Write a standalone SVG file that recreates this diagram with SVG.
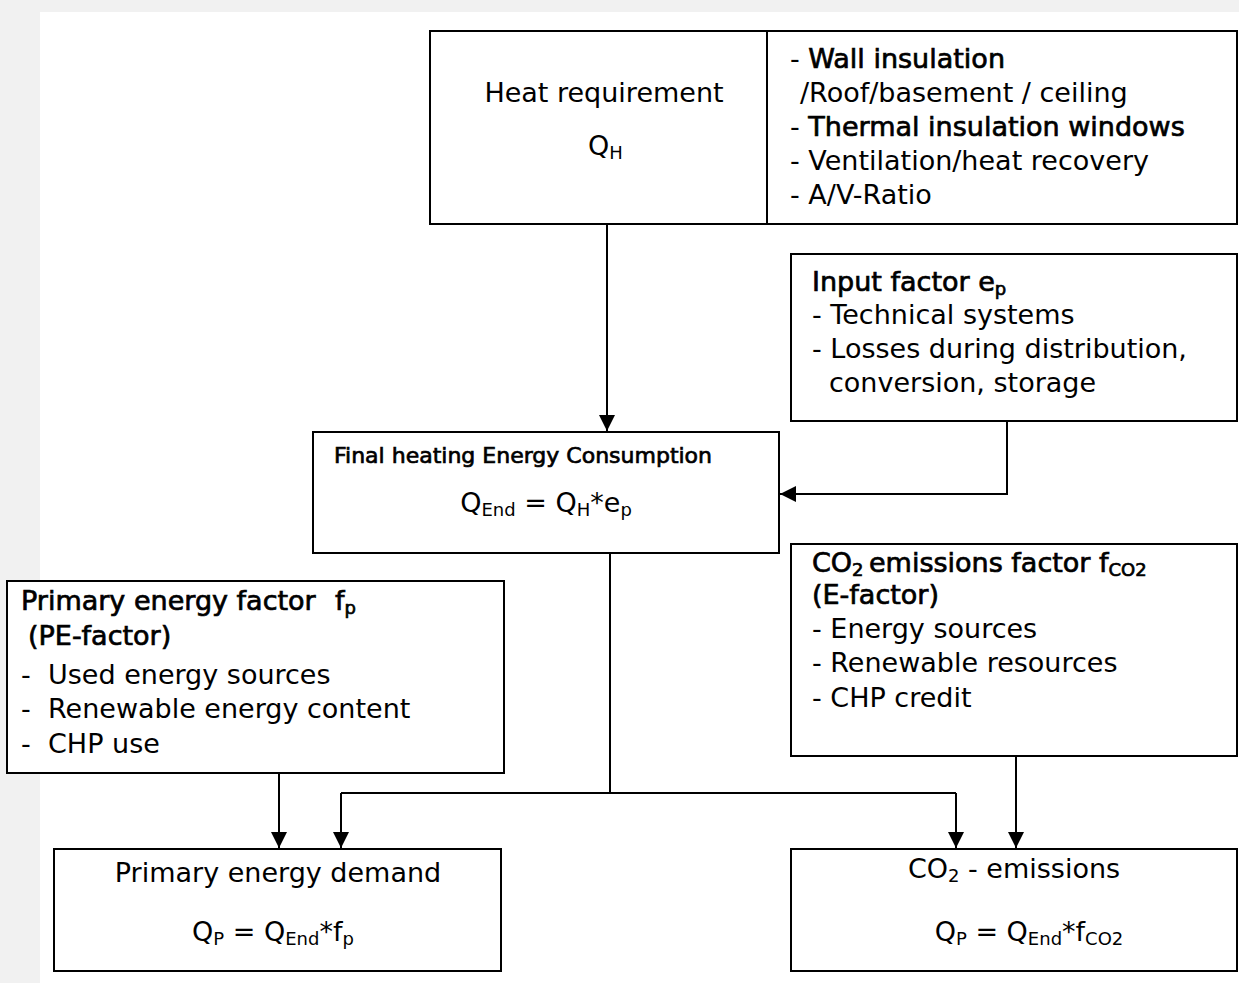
<svg xmlns="http://www.w3.org/2000/svg" width="1239" height="983" viewBox="0 0 1239 983">
<style>
  .box { fill: #ffffff; stroke: #000000; stroke-width: 2; }
  .ln { fill: none; stroke: #000000; stroke-width: 2; }
  text { font-family: "DejaVu Sans", "Liberation Sans", sans-serif; font-size: 27px; fill: #000000; }
  .b { stroke: #000000; stroke-width: 0.7; }
  .sm { font-size: 22px; }
  .sub { font-size: 18px; }
  .mid { text-anchor: middle; }
</style>
<defs>
  <marker id="arr" markerUnits="userSpaceOnUse" markerWidth="16" markerHeight="16" viewBox="0 0 15 15" refX="15" refY="7.5" orient="auto">
    <path d="M0,0 L15,7.5 L0,15 z" fill="#000000"/>
  </marker>
</defs>
<rect x="0" y="0" width="1239" height="983" fill="#f1f1f1"/>
<rect x="40" y="12" width="1199" height="971" fill="#ffffff"/>

<g id="connectors">
  <path class="ln" d="M607,224 L607,431" marker-end="url(#arr)"/>
  <path class="ln" d="M1007,421 L1007,494 L780,494" marker-end="url(#arr)"/>
  <path class="ln" d="M610,553 L610,793"/>
  <path class="ln" d="M341,793 L956,793"/>
  <path class="ln" d="M341,793 L341,848" marker-end="url(#arr)"/>
  <path class="ln" d="M956,793 L956,848" marker-end="url(#arr)"/>
  <path class="ln" d="M279,773 L279,848" marker-end="url(#arr)"/>
  <path class="ln" d="M1016,756 L1016,848" marker-end="url(#arr)"/>
</g>

<g id="heat-requirement">
  <rect class="box" x="430" y="31" width="337" height="193"/>
  <text class="mid" x="604" y="102">Heat requirement</text>
  <text x="588" y="155">Q<tspan class="sub" dy="4">H</tspan></text>
</g>

<g id="heat-measures">
  <rect class="box" x="767" y="31" width="470" height="193"/>
  <text x="790" y="68">- <tspan class="b">Wall insulation</tspan></text>
  <text x="800" y="102">/Roof/basement / ceiling</text>
  <text x="790" y="136">- <tspan class="b">Thermal insulation windows</tspan></text>
  <text x="790" y="170">- Ventilation/heat recovery</text>
  <text x="790" y="204">- A/V-Ratio</text>
</g>

<g id="input-factor">
  <rect class="box" x="791" y="254" width="446" height="167"/>
  <text x="812" y="291" class="b">Input factor e<tspan class="sub" dy="4">p</tspan></text>
  <text x="812" y="324">- Technical systems</text>
  <text x="812" y="358">- Losses during distribution,</text>
  <text x="829" y="392">conversion, storage</text>
</g>

<g id="final-energy">
  <rect class="box" x="313" y="432" width="466" height="121"/>
  <text x="334" y="463" class="sm b">Final heating Energy Consumption</text>
  <text class="mid" x="546" y="512">Q<tspan class="sub" dy="4">End</tspan><tspan dy="-4"> = Q</tspan><tspan class="sub" dy="4">H</tspan><tspan dy="-4">*e</tspan><tspan class="sub" dy="4">p</tspan></text>
</g>

<g id="co2-factor">
  <rect class="box" x="791" y="544" width="446" height="212"/>
  <text x="812" y="572" class="b">CO<tspan class="sub" dy="4">2</tspan></text>
  <text x="869" y="572" class="b">emissions factor f<tspan class="sub" dy="4">CO2</tspan></text>
  <text x="812" y="604" class="b">(E-factor)</text>
  <text x="812" y="638">- Energy sources</text>
  <text x="812" y="672">- Renewable resources</text>
  <text x="812" y="707">- CHP credit</text>
</g>

<g id="pe-factor">
  <rect class="box" x="7" y="581" width="497" height="192"/>
  <text x="21" y="610" class="b">Primary energy factor</text>
  <text x="335" y="610" class="b">f<tspan class="sub" dy="4">p</tspan></text>
  <text x="28" y="645" class="b">(PE-factor)</text>
  <text x="21" y="684">-<tspan x="48">Used energy sources</tspan></text>
  <text x="21" y="718">-<tspan x="48">Renewable energy content</tspan></text>
  <text x="21" y="753">-<tspan x="48">CHP use</tspan></text>
</g>

<g id="primary-demand">
  <rect class="box" x="54" y="849" width="447" height="122"/>
  <text class="mid" x="278" y="882">Primary energy demand</text>
  <text class="mid" x="273" y="941">Q<tspan class="sub" dy="4">P</tspan><tspan dy="-4"> = Q</tspan><tspan class="sub" dy="4">End</tspan><tspan dy="-4">*f</tspan><tspan class="sub" dy="4">p</tspan></text>
</g>

<g id="co2-emissions">
  <rect class="box" x="791" y="849" width="446" height="122"/>
  <text class="mid" x="1014" y="878">CO<tspan class="sub" dy="4">2</tspan><tspan dy="-4"> - emissions</tspan></text>
  <text class="mid" x="1029" y="941">Q<tspan class="sub" dy="4">P</tspan><tspan dy="-4"> = Q</tspan><tspan class="sub" dy="4">End</tspan><tspan dy="-4">*f</tspan><tspan class="sub" dy="4">CO2</tspan></text>
</g>
</svg>
